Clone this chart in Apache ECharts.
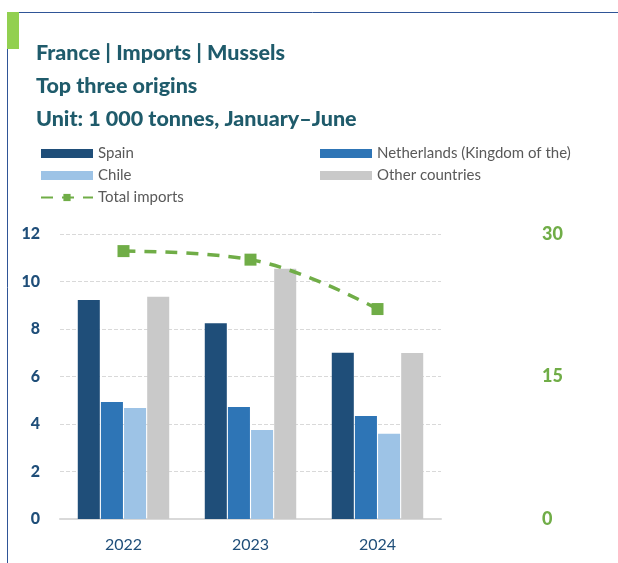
<!DOCTYPE html>
<html>
<head>
<meta charset="utf-8">
<script src="https://cdn.jsdelivr.net/npm/echarts@6/dist/echarts.min.js"></script>
<style>
  html, body { margin: 0; padding: 0; background: #fff; }
  #main { width: 618px; height: 563px; }
</style>
</head>
<body>
<div id="main"></div>
<script>
var years = ['2022', '2023', '2024'];
var spain = [9.22, 8.24, 7.0];
var netherlands = [4.93, 4.72, 4.34];
var chile = [4.67, 3.75, 3.59];
var other = [9.36, 10.54, 6.99];
var total = [28.2, 27.3, 22.1];

var chartDom = document.getElementById('main');
var myChart = echarts.init(chartDom);
var option;

var font = 'Lato';
var legendText = { color: '#595959', fontSize: 15, fontFamily: font };

option = {
    animation: false,
    textStyle: { fontFamily: font },
    graphic: {
        elements: [
            // frame
            { type: 'line', shape: { x1: 7.5, y1: 12, x2: 7.5, y2: 563 }, style: { stroke: '#2F5597', lineWidth: 1 } },
            { type: 'line', shape: { x1: 7, y1: 12.5, x2: 618, y2: 12.5 }, style: { stroke: '#2F5597', lineWidth: 1 } },
            { type: 'rect', shape: { x: 7, y: 12, width: 12, height: 37 }, style: { fill: '#92D050' } },
            {
                type: 'text', left: 36, top: 37,
                style: {
                    text: 'France | Imports | Mussels\nTop three origins\nUnit: 1 000 tonnes, January\u2013June',
                    fill: '#1F5B6B', font: '900 21.5px ' + font, lineHeight: 33
                }
            }
        ]
    },
    legend: [
        {
            data: [
                { name: 'Spain', icon: 'rect' },
                { name: 'Chile', icon: 'rect' },
                { name: 'Total imports' }
            ],
            orient: 'vertical', left: 40, top: 146, itemGap: 7, padding: 0,
            itemWidth: 52, itemHeight: 9,
            textStyle: legendText
        },
        {
            data: [
                { name: 'Netherlands (Kingdom of the)', icon: 'rect' },
                { name: 'Other countries', icon: 'rect' }
            ],
            orient: 'vertical', left: 320, top: 146, itemGap: 7, padding: 0,
            itemWidth: 52, itemHeight: 9,
            textStyle: legendText
        }
    ],
    grid: { left: 60, right: 177, top: 234, bottom: 44 },
    xAxis: {
        type: 'category',
        data: years,
        axisTick: { show: false },
        axisLine: { lineStyle: { color: '#D9D9D9', width: 2 } },
        axisLabel: { color: '#1F4E79', fontSize: 16, margin: 18, fontFamily: font }
    },
    yAxis: [
        {
            type: 'value', min: 0, max: 12, interval: 2,
            axisLabel: { color: '#1F4E79', fontSize: 16, fontWeight: 900, margin: 20, fontFamily: font },
            splitLine: { lineStyle: { color: '#D9D9D9', type: 'dashed' } }
        },
        {
            type: 'value', min: 0, max: 30, interval: 15,
            position: 'right',
            axisLabel: { color: '#70AD47', fontSize: 18, fontWeight: 900, margin: 101, align: 'left', fontFamily: font },
            splitLine: { show: false }
        }
    ],
    series: [
        { name: 'Spain', type: 'bar', data: spain, barGap: '5%', barCategoryGap: '28%', itemStyle: { color: '#1F4E79' } },
        { name: 'Netherlands (Kingdom of the)', type: 'bar', data: netherlands, itemStyle: { color: '#2E75B6' } },
        { name: 'Chile', type: 'bar', data: chile, itemStyle: { color: '#9DC3E6' } },
        { name: 'Other countries', type: 'bar', data: other, itemStyle: { color: '#C9C9C9' } },
        {
            name: 'Total imports', type: 'line', yAxisIndex: 1, data: total,
            smooth: 0.4, symbol: 'rect', symbolSize: 12,
            lineStyle: { color: '#70AD47', width: 3.5, type: [12, 9] },
            itemStyle: { color: '#70AD47' }
        }
    ]
};

option && myChart.setOption(option);
</script>
</body>
</html>
